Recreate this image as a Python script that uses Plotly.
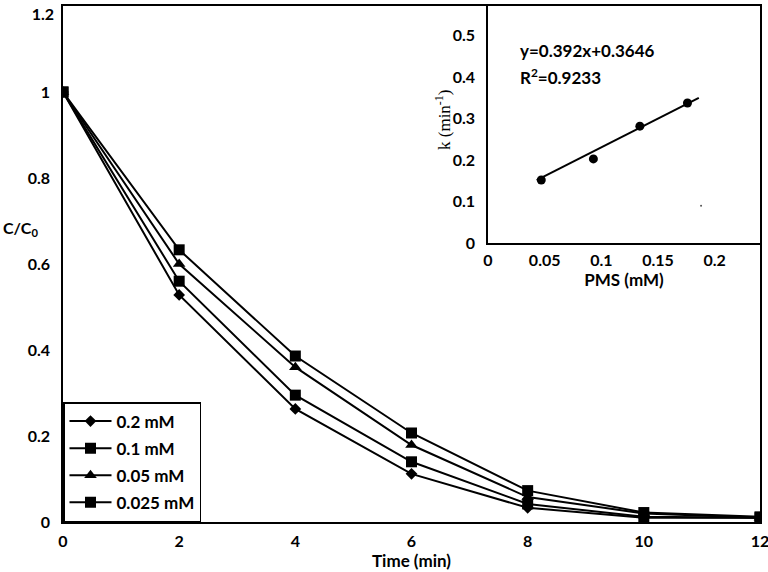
import plotly.graph_objects as go

# Main chart data
time_min = [0, 2, 4, 6, 8, 10, 12]
series_names = ["0.2 mM", "0.1 mM", "0.05 mM", "0.025 mM"]
c_02 = [1.0, 0.528, 0.263, 0.112, 0.033, 0.010, 0.010]
c_01 = [1.0, 0.560, 0.295, 0.140, 0.042, 0.012, 0.010]
c_005 = [1.0, 0.600, 0.360, 0.179, 0.058, 0.020, 0.010]
c_0025 = [1.0, 0.633, 0.386, 0.207, 0.073, 0.022, 0.012]
x_ticks = [0, 2, 4, 6, 8, 10, 12]
y_ticks = [0, 0.2, 0.4, 0.6, 0.8, 1]
y_tick_text = ["0", "0.2", "0.4", "0.6", "0.8", "1"]
y_top_tick = [1.2]
y_top_text = ["1.2"]

# Inset data
pms_mM = [0.047, 0.093, 0.134, 0.176]
k_min = [0.152, 0.203, 0.282, 0.338]
fit_x = [0.043, 0.186]
fit_y = [0.152, 0.350]
speck_x = [0.188]
speck_y = [0.090]
inset_x_ticks = [0, 0.05, 0.1, 0.15, 0.2]
inset_x_text = ["0", "0.05", "0.1", "0.15", "0.2"]
inset_y_ticks = [0, 0.1, 0.2, 0.3, 0.4, 0.5]
inset_y_text = ["0", "0.1", "0.2", "0.3", "0.4", "0.5"]

FONT = "Lato"
L, R, T, B = 63, 8, 6, 50
W, H = 768, 572
PW, PH = W - L - R, H - T - B


def px(xpix):
    return (xpix - L) / PW


def py(ypix):
    return (H - B - ypix) / PH


fig = go.Figure()

symbols = ["diamond", "square", "triangle-up", "square"]
sizes = [9, 11, 11, 11]
for i, (name, ys) in enumerate(zip(series_names, [c_02, c_01, c_005, c_0025])):
    fig.add_trace(go.Scatter(
        x=time_min, y=ys, name=name, mode="lines+markers",
        line=dict(color="black", width=2),
        marker=dict(symbol=symbols[i], size=sizes[i], color="black"),
        legendgroup=f"g{i}", xaxis="x", yaxis="y"))

# invisible copy on the overlay axis that carries the top tick label
fig.add_trace(go.Scatter(x=time_min, y=c_0025, mode="lines", line=dict(width=0, color="rgba(0,0,0,0)"),
                         showlegend=False, xaxis="x", yaxis="y3", hoverinfo="skip"))

fig.add_trace(go.Scatter(x=fit_x, y=fit_y, mode="lines", line=dict(color="black", width=2),
                         showlegend=False, xaxis="x2", yaxis="y2"))
fig.add_trace(go.Scatter(x=pms_mM, y=k_min, mode="markers",
                         marker=dict(symbol="circle", size=9, color="black"),
                         showlegend=False, xaxis="x2", yaxis="y2"))
fig.add_trace(go.Scatter(x=speck_x, y=speck_y, mode="markers",
                         marker=dict(symbol="circle", size=2, color="#555"),
                         showlegend=False, xaxis="x2", yaxis="y2"))

tickfont = dict(family=FONT, size=16, color="black", weight="bold")
common = dict(showgrid=False, zeroline=False, showline=True, linecolor="black", linewidth=1.5,
              ticks="", tickfont=tickfont, automargin=False, ticklabeloverflow="allow")

fig.update_layout(
    width=W, height=H,
    margin=dict(l=L, r=R, t=T, b=B, autoexpand=False),
    paper_bgcolor="white", plot_bgcolor="white",
    xaxis=dict(domain=[0, 1], range=[0, 12], tickvals=x_ticks, ticktext=[str(v) for v in x_ticks],
               mirror=True, ticklabelstandoff=4,
               title=dict(text="Time (min)", font=dict(family=FONT, size=17, color="black", weight="bold"),
                          standoff=0),
               **common),
    yaxis=dict(domain=[0, 1], range=[0, 1.2], tickvals=y_ticks, ticktext=y_tick_text,
               mirror=True, ticklabelstandoff=8, **common),
    yaxis3=dict(overlaying="y", side="left", range=[0, 1.2], tickvals=y_top_tick, ticktext=y_top_text,
                showgrid=False, zeroline=False, showline=False, ticks="", tickfont=tickfont,
                automargin=False, ticklabelstandoff=8, ticklabelshift=8, ticklabeloverflow="allow"),
    xaxis2=dict(domain=[px(488), 1], range=[0, 0.24], anchor="y2", tickvals=inset_x_ticks,
                ticktext=inset_x_text, ticklabelstandoff=2,
                title=dict(text="PMS (mM)", font=dict(family=FONT, size=17, color="black", weight="bold"),
                           standoff=2),
                **common),
    yaxis2=dict(domain=[py(243), 1], range=[0, 0.572], anchor="x2", tickvals=inset_y_ticks,
                ticktext=inset_y_text, ticklabelstandoff=8, **common),
    legend=dict(x=0, y=0, xanchor="left", yanchor="bottom", bgcolor="white",
                bordercolor="black", borderwidth=1.5, tracegroupgap=2, itemwidth=42,
                entrywidth=125, entrywidthmode="pixels",
                font=dict(family=FONT, size=17, color="black", weight="bold")),
    showlegend=True,
    annotations=[
        dict(text="C/C<sub>0</sub>", xref="paper", yref="paper", x=px(1), y=py(228),
             xanchor="left", yanchor="middle", showarrow=False,
             font=dict(family=FONT, size=16, color="black", weight="bold")),
        dict(text="k (min<sup>-1</sup>)", xref="paper", yref="paper", x=px(443), y=py(120),
             xanchor="center", yanchor="middle", showarrow=False, textangle=-90,
             font=dict(family="Liberation Serif", size=17, color="black")),
        dict(text="y=0.392x+0.3646", xref="paper", yref="paper", x=px(518), y=py(50),
             xanchor="left", yanchor="middle", showarrow=False,
             font=dict(family=FONT, size=17, color="black", weight="bold")),
        dict(text="R<sup>2</sup>=0.9233", xref="paper", yref="paper", x=px(518), y=py(76),
             xanchor="left", yanchor="middle", showarrow=False,
             font=dict(family=FONT, size=17, color="black", weight="bold")),
    ],
)

fig.write_html("out.html", config={"displayModeBar": False},
               post_script="document.body.style.margin='0px';")
